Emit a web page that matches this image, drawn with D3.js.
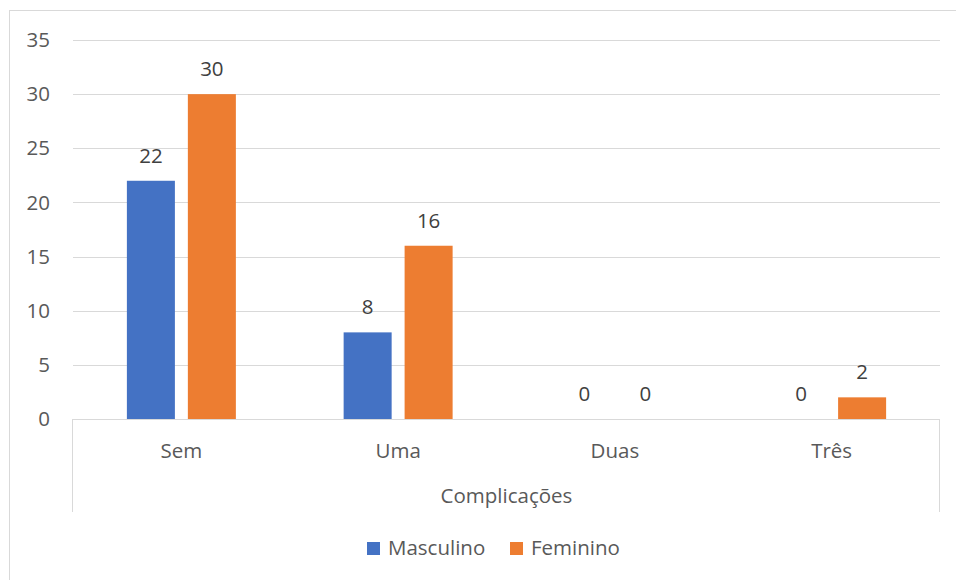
<!DOCTYPE html>
<html>
<head>
<meta charset="utf-8">
<script src="https://cdn.jsdelivr.net/npm/d3@7"></script>
<style>
  html, body { margin: 0; padding: 0; background: #fff; }
  svg { display: block; font-family: "Open Sans", "Noto Sans", sans-serif; }
</style>
</head>
<body>
<svg id="chart" width="956" height="580"></svg>
<script>
// Number of complications by sex
const categories = ["Sem", "Uma", "Duas", "Três"];
const seriesNames = ["Masculino", "Feminino"];
const masculino = [22, 8, 0, 0];
const feminino = [30, 16, 0, 2];
const yTicks = [0, 5, 10, 15, 20, 25, 30, 35];
const axisTitle = "Complicações";

const colors = { Masculino: "#4472C4", Feminino: "#ED7D31" };
const values = { Masculino: masculino, Feminino: feminino };

const svg = d3.select("#chart");
const W = 956, H = 580;
const plot = { left: 73, right: 940, top: 40, bottom: 419 };
const fontSize = 20.5;

// outer chart frame
svg.append("rect")
  .attr("x", 9.5).attr("y", 10.5)
  .attr("width", W + 10).attr("height", H + 10)
  .attr("fill", "#fff").attr("stroke", "#d9d9d9").attr("stroke-width", 1);

const x = d3.scaleBand().domain(categories).range([plot.left, plot.right]).padding(0);
const y = d3.scaleLinear().domain([0, 35]).range([plot.bottom, plot.top]);

// two bars per category with a small gap between them
const barW = x.bandwidth() * 0.2215;
const barGap = barW * 0.27;
const half = barW + barGap / 2;
const inner = d3.scaleBand().domain(seriesNames)
  .range([-half, half])
  .paddingInner(barGap / (barW + barGap))
  .paddingOuter(0);

// gridlines
svg.append("g")
  .selectAll("line")
  .data(yTicks.filter(d => d > 0))
  .join("line")
  .attr("x1", plot.left).attr("x2", plot.right)
  .attr("y1", d => Math.round(y(d)) + 0.5).attr("y2", d => Math.round(y(d)) + 0.5)
  .attr("stroke", "#d9d9d9").attr("stroke-width", 1);

// y tick labels
svg.append("g")
  .selectAll("text")
  .data(yTicks)
  .join("text")
  .attr("x", 50).attr("y", d => y(d))
  .attr("dy", "0.35em")
  .attr("text-anchor", "end")
  .attr("font-size", fontSize)
  .attr("fill", "#595959")
  .text(d => d);

// bars
const groups = svg.append("g")
  .selectAll("g")
  .data(categories)
  .join("g")
  .attr("transform", d => `translate(${x(d) + x.bandwidth() / 2},0)`);

groups.selectAll("rect")
  .data((c, i) => seriesNames.map(s => ({ s, v: values[s][i] })))
  .join("rect")
  .attr("x", d => inner(d.s))
  .attr("width", inner.bandwidth())
  .attr("y", d => y(d.v))
  .attr("height", d => y(0) - y(d.v))
  .attr("fill", d => colors[d.s]);

groups.selectAll("text")
  .data((c, i) => seriesNames.map(s => ({ s, v: values[s][i] })))
  .join("text")
  .attr("x", d => inner(d.s) + inner.bandwidth() / 2)
  .attr("y", d => y(d.v) - 18)
  .attr("text-anchor", "middle")
  .attr("font-size", fontSize)
  .attr("fill", "#404040")
  .text(d => d.v);

// category axis
const axisG = svg.append("g").attr("stroke", "#d9d9d9").attr("stroke-width", 1);
axisG.append("line")
  .attr("x1", plot.left).attr("x2", plot.right)
  .attr("y1", plot.bottom + 0.5).attr("y2", plot.bottom + 0.5);
axisG.selectAll("line.edge")
  .data([plot.left, plot.right])
  .join("line")
  .attr("class", "edge")
  .attr("x1", d => d - 0.5).attr("x2", d => d - 0.5)
  .attr("y1", plot.bottom).attr("y2", 512);

svg.append("g")
  .selectAll("text")
  .data(categories)
  .join("text")
  .attr("x", d => x(d) + x.bandwidth() / 2)
  .attr("y", 458)
  .attr("text-anchor", "middle")
  .attr("font-size", fontSize)
  .attr("fill", "#595959")
  .text(d => d);

svg.append("text")
  .attr("x", (plot.left + plot.right) / 2)
  .attr("y", 503)
  .attr("text-anchor", "middle")
  .attr("font-size", fontSize)
  .attr("fill", "#595959")
  .text(axisTitle);

// legend
const legendItems = [
  { s: "Masculino", x: 367 },
  { s: "Feminino", x: 510 }
];
const legend = svg.append("g")
  .selectAll("g")
  .data(legendItems)
  .join("g")
  .attr("transform", d => `translate(${d.x},0)`);
legend.append("rect")
  .attr("x", 0).attr("y", 542)
  .attr("width", 13).attr("height", 13)
  .attr("fill", d => colors[d.s]);
legend.append("text")
  .attr("x", 21).attr("y", 555)
  .attr("font-size", fontSize)
  .attr("fill", "#595959")
  .text(d => d.s);
</script>
</body>
</html>
